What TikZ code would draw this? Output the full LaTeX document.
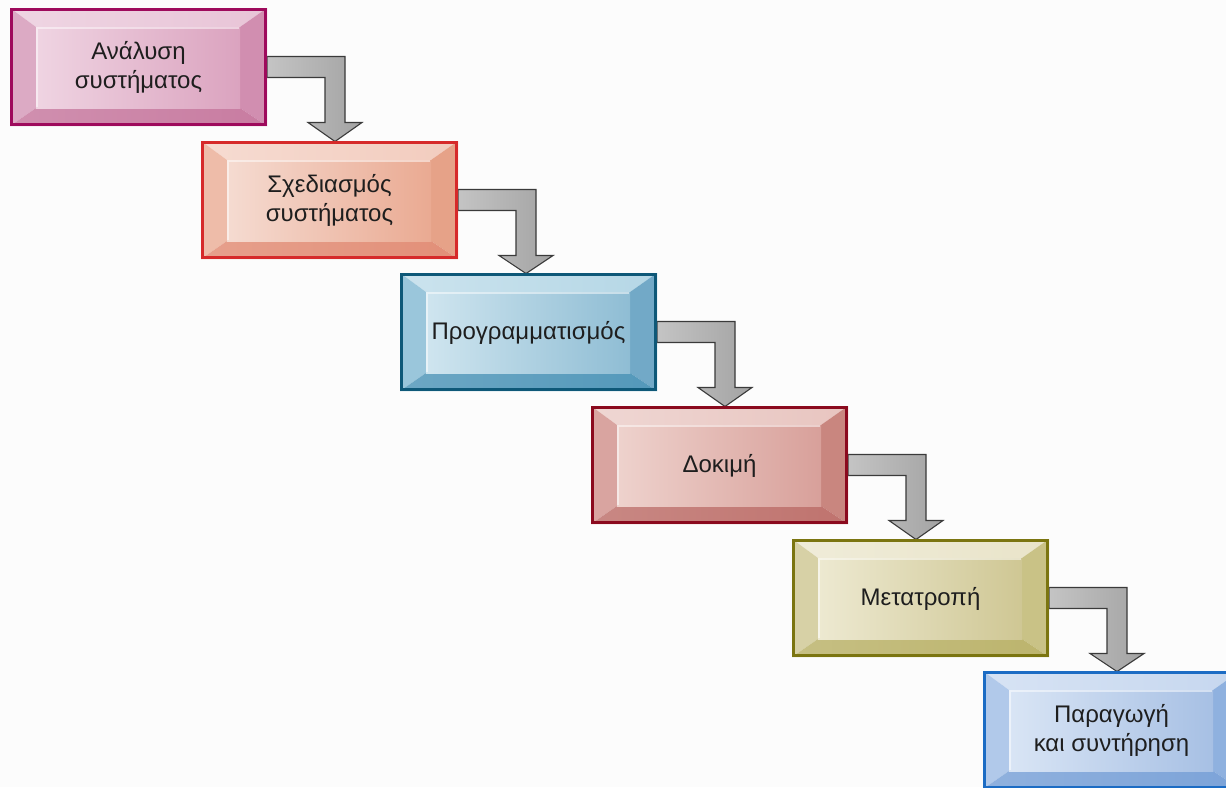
\documentclass[tikz,border=0pt]{standalone}
\usepackage{fontspec}
\setmainfont{Liberation Sans}
\usetikzlibrary{calc}
\pgfdeclarelayer{back}
\pgfdeclarelayer{arr}
\pgfsetlayers{back,arr,main}

\definecolor{bgcol}{HTML}{FCFCFC}
\definecolor{txtcol}{HTML}{1E1E1E}
\definecolor{arrL}{HTML}{C4C4C4}
\definecolor{arrM}{HTML}{A8A8A8}
\definecolor{arrR}{HTML}{A3A3A3}
\definecolor{arrline}{HTML}{3A3A3A}

% box 1 magenta
\definecolor{b1border}{HTML}{9E0A5C}
\definecolor{b1top}{HTML}{E8C4D7}
\definecolor{b1left}{HTML}{DCAAC4}
\definecolor{b1right}{HTML}{D18EB0}
\definecolor{b1bottom}{HTML}{C87CA1}
\definecolor{b1fl}{HTML}{EFD4E2}
\definecolor{b1fr}{HTML}{DBA3BF}
% box 2 red
\definecolor{b2border}{HTML}{D62A2A}
\definecolor{b2top}{HTML}{F2CCBE}
\definecolor{b2left}{HTML}{EEBCA9}
\definecolor{b2right}{HTML}{E6A288}
\definecolor{b2bottom}{HTML}{E28F78}
\definecolor{b2fl}{HTML}{F5DBD1}
\definecolor{b2fr}{HTML}{EAAA92}
% box 3 teal
\definecolor{b3border}{HTML}{0E5878}
\definecolor{b3top}{HTML}{B5D7E6}
\definecolor{b3left}{HTML}{9AC6DB}
\definecolor{b3right}{HTML}{72A9C7}
\definecolor{b3bottom}{HTML}{5398BA}
\definecolor{b3fl}{HTML}{CFE5EF}
\definecolor{b3fr}{HTML}{8FBDD4}
% box 4 dark red
\definecolor{b4border}{HTML}{8B0A1E}
\definecolor{b4top}{HTML}{E8C5C0}
\definecolor{b4left}{HTML}{D9A4A0}
\definecolor{b4right}{HTML}{C9867F}
\definecolor{b4bottom}{HTML}{BF736E}
\definecolor{b4fl}{HTML}{EED2CD}
\definecolor{b4fr}{HTML}{D8A09A}
% box 5 olive
\definecolor{b5border}{HTML}{7B7510}
\definecolor{b5top}{HTML}{E9E4C9}
\definecolor{b5left}{HTML}{D7D1A6}
\definecolor{b5right}{HTML}{C9C286}
\definecolor{b5bottom}{HTML}{BCB46D}
\definecolor{b5fl}{HTML}{EDE9D1}
\definecolor{b5fr}{HTML}{CFC794}
% box 6 blue
\definecolor{b6border}{HTML}{1C6CC4}
\definecolor{b6top}{HTML}{C6D7EF}
\definecolor{b6left}{HTML}{B1C9EA}
\definecolor{b6right}{HTML}{8FB1DF}
\definecolor{b6bottom}{HTML}{7CA3D8}
\definecolor{b6fl}{HTML}{D9E5F5}
\definecolor{b6fr}{HTML}{A7C0E4}

\tikzset{
  boxnode/.style={minimum width=257pt, minimum height=118pt, inner sep=0pt,
    outer sep=0pt, align=center, text=txtcol,
    font=\fontsize{24}{29}\selectfont},
  arrowsty/.style={draw=arrline, line width=1.1pt, line join=miter,
    left color=arrL, middle color=arrM, right color=arrR}
}

\newcommand\bevbox[4]{%
\begin{scope}[shift={(#2,#3)}]
  \shade[left color=#1top!70!white, right color=#1top] (0,0) -- (257,0) -- (230,19) -- (26,19) -- cycle;
  \fill[#1left] (0,0) -- (26,19) -- (26,100) -- (0,118) -- cycle;
  \fill[#1right] (257,0) -- (257,118) -- (230,100) -- (230,19) -- cycle;
  \shade[left color=#1bottom!85!white, right color=#1bottom] (0,118) -- (257,118) -- (230,100) -- (26,100) -- cycle;
  \shade[left color=#1fl, right color=#1fr] (26,19) rectangle (230,100);
  \draw[white, opacity=0.5, line width=1.3pt] (27,99) -- (27,20) -- (229,20);
  \draw[#1border, line width=3pt] (1.5,1.5) rectangle (255.5,116.5);
  \node[boxnode] (#1) at (128.5,59.5) {#4};
\end{scope}}

\newcommand\flowarrow[2]{%
\begin{pgfonlayer}{arr}
  \coordinate (#1-tip) at ($(#1.north east)+(68,0)$);
  \path[arrowsty] ($(#1.north east)+(0,48)$) -- ++(78,0) -- ++(0,66) -- ++(17,0)
    -- (#1-tip |- #2.north) -- ($(#1.north east)+(41,114)$) -- ++(17,0)
    -- ($(#1.north east)+(58,69)$) -- ($(#1.north east)+(0,69)$) -- cycle;
\end{pgfonlayer}}

\begin{document}
\begin{tikzpicture}[x=1pt, y=-1pt]
  \useasboundingbox (0,0) rectangle (1226,787);
  \clip (0,0) rectangle (1226,787);
  \begin{pgfonlayer}{back}
    \fill[bgcol] (0,0) rectangle (1226,787);
  \end{pgfonlayer}

  \bevbox{b1}{10}{8}{Ανάλυση\\συστήματος}
  \bevbox{b2}{201}{141}{Σχεδιασμός\\συστήματος}
  \bevbox{b3}{400}{273}{Προγραμματισμός}
  \bevbox{b4}{591}{406}{Δοκιμή}
  \bevbox{b5}{792}{539}{Μετατροπή}
  \bevbox{b6}{983}{671}{Παραγωγή\\και συντήρηση}

  \flowarrow{b1}{b2}
  \flowarrow{b2}{b3}
  \flowarrow{b3}{b4}
  \flowarrow{b4}{b5}
  \flowarrow{b5}{b6}
\end{tikzpicture}
\end{document}
